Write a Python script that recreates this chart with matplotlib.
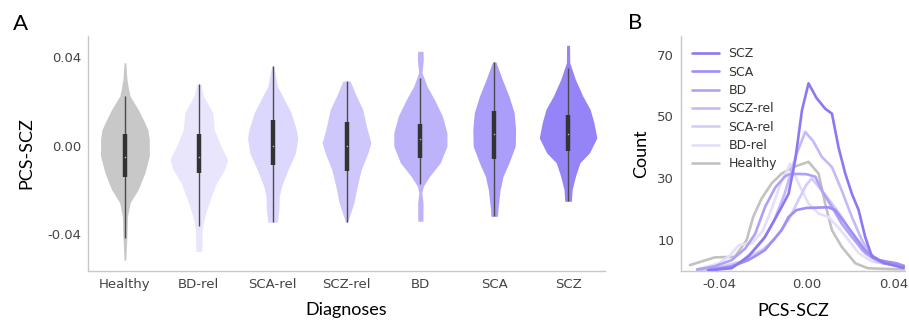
import matplotlib
matplotlib.use('Agg')
import matplotlib.pyplot as plt
import numpy as np

# ---------------- data ----------------
groups = ['Healthy', 'BD-rel', 'SCA-rel', 'SCZ-rel', 'BD', 'SCA', 'SCZ']

fill_colors = ['#c8c8c8', '#e8e5fd', '#dcd7fc', '#cec7fc', '#bcb3fb', '#aa9efa', '#9584f8']
line_colors = ['#c2c2c2', '#e3dffc', '#d3ccfa', '#c3bbf8', '#ada2f6', '#9d8ff5', '#8b79f4']

# violin outlines: PCS-SCZ value and half width (category units)
healthy_y = [0.0374, 0.030, 0.0253, 0.0223, 0.0163, 0.0102, 0.0072, 0.0027, -0.0048, -0.0124, -0.0199, -0.0259, -0.032, -0.041, -0.0518]
healthy_w = [0.012, 0.027, 0.05, 0.07, 0.18, 0.27, 0.31, 0.33, 0.33, 0.27, 0.18, 0.07, 0.034, 0.027, 0.012]
bdrel_y = [0.0276, 0.0223, 0.0148, 0.0072, -0.0003, -0.0063, -0.0108, -0.0169, -0.0229, -0.032, -0.038, -0.0478]
bdrel_w = [0.027, 0.065, 0.19, 0.21, 0.30, 0.39, 0.35, 0.24, 0.17, 0.08, 0.045, 0.04]
scarel_y = [0.0359, 0.0268, 0.0223, 0.0148, 0.0072, 0.0035, -0.0033, -0.0108, -0.0184, -0.0229, -0.0289, -0.0347]
scarel_w = [0.014, 0.063, 0.135, 0.25, 0.32, 0.34, 0.31, 0.21, 0.12, 0.09, 0.085, 0.065]
sczrel_y = [0.0291, 0.0223, 0.0163, 0.0087, 0.0012, -0.0033, -0.0108, -0.0184, -0.0259, -0.032, -0.0347]
sczrel_w = [0.05, 0.135, 0.22, 0.27, 0.33, 0.29, 0.20, 0.145, 0.10, 0.04, 0.015]
bd_y = [0.0426, 0.0389, 0.0329, 0.0268, 0.0208, 0.0132, 0.0057, -0.0003, -0.0078, -0.0139, -0.0184, -0.0214, -0.0259, -0.0342]
bd_w = [0.036, 0.04, 0.023, 0.09, 0.19, 0.30, 0.36, 0.36, 0.27, 0.125, 0.04, 0.02, 0.036, 0.035]
sca_y = [0.0378, 0.0298, 0.0223, 0.0148, 0.0072, -0.0003, -0.0078, -0.0139, -0.0199, -0.0289, -0.032]
sca_w = [0.023, 0.11, 0.20, 0.27, 0.29, 0.285, 0.20, 0.12, 0.08, 0.05, 0.045]
scz_y = [0.0453, 0.0374, 0.0298, 0.0223, 0.0163, 0.0103, 0.0035, -0.0033, -0.0078, -0.0139, -0.0199, -0.0252]
scz_w = [0.02, 0.023, 0.10, 0.20, 0.30, 0.35, 0.39, 0.29, 0.16, 0.10, 0.055, 0.045]

violin_y = [healthy_y, bdrel_y, scarel_y, sczrel_y, bd_y, sca_y, scz_y]
violin_w = [healthy_w, bdrel_w, scarel_w, sczrel_w, bd_w, sca_w, scz_w]

# box summaries
whisk_lo = [-0.0417, -0.0362, -0.0347, -0.0347, -0.0172, -0.032, -0.0252]
q1 = [-0.0142, -0.0124, -0.0086, -0.0116, -0.0056, -0.0063, -0.0026]
median = [-0.0051, -0.0053, 0.0, 0.0, 0.003, 0.005, 0.0054]
q3 = [0.0054, 0.005, 0.0115, 0.0107, 0.0099, 0.0158, 0.0136]
whisk_hi = [0.0223, 0.0276, 0.0359, 0.0291, 0.0306, 0.0378, 0.0351]

# panel B curves (PCS-SCZ, Count)
scz_kx = [-0.045, -0.0343, -0.0267, -0.019, -0.0114, -0.0082, -0.0052, -0.0021, 0.0009, 0.0045, 0.0085, 0.0116, 0.0146, 0.0177, 0.0207, 0.0238, 0.0268, 0.0299, 0.036, 0.0443]
scz_kc = [0.2, 0.9, 4.6, 11, 20.7, 25, 35.8, 52, 60.7, 56, 52.5, 50.9, 40, 31.5, 25, 19.7, 11, 4.6, 2.5, 1]
sca_kx = [-0.045, -0.034, -0.0267, -0.023, -0.019, -0.0114, -0.0082, -0.0046, 0.0, 0.005, 0.01, 0.0131, 0.0177, 0.0223, 0.0268, 0.033, 0.0411, 0.045]
sca_kc = [0.3, 1.5, 3.5, 5.0, 6.8, 13.2, 17.5, 19.7, 20.4, 20.5, 20.6, 19.7, 15.4, 11, 6.7, 3.5, 2.5, 1.5]
bd_kx = [-0.05, -0.042, -0.0343, -0.028, -0.0235, -0.019, -0.0143, -0.010, -0.008, -0.004, 0.0, 0.004, 0.007, 0.0116, 0.016, 0.0207, 0.027, 0.035, 0.045]
bd_kc = [0.5, 1.5, 3.5, 7.3, 12, 20.7, 27, 30.5, 31.3, 31.4, 31.3, 30.5, 26, 20.7, 15.4, 11, 5.7, 2.5, 1.5]
sczrel_kx = [-0.05, -0.04, -0.035, -0.03, -0.025, -0.02, -0.015, -0.01, -0.005, -0.0006, 0.003, 0.007, 0.0116, 0.0161, 0.0207, 0.0253, 0.03, 0.037, 0.045]
sczrel_kc = [0.3, 1.0, 1.5, 3, 6, 10, 16, 25, 37, 45, 42, 36.9, 33.6, 26, 17.5, 10, 4.6, 2.5, 1.5]
scarel_kx = [-0.05, -0.04, -0.03, -0.025, -0.02, -0.015, -0.0082, -0.0037, 0.0, 0.0024, 0.007, 0.0116, 0.0161, 0.0207, 0.0253, 0.032, 0.045]
scarel_kc = [0.5, 1.2, 3, 5, 7, 10, 16.5, 23, 28, 29.9, 26, 21.8, 17.5, 12, 6.7, 3, 1.5]
bdrel_kx = [-0.05, -0.04, -0.035, -0.031, -0.025, -0.02, -0.016, -0.012, -0.0075, -0.0037, 0.0009, 0.0055, 0.01, 0.0146, 0.0192, 0.0238, 0.03, 0.045]
bdrel_kc = [0.5, 2.5, 5, 8.4, 9, 13, 20, 28, 34.7, 28.3, 21.8, 18.6, 17.5, 14, 10, 5.8, 3, 1.5]
healthy_kx = [-0.0533, -0.042, -0.0328, -0.0274, -0.0244, -0.0206, -0.016, -0.0114, -0.0061, 0.0009, 0.0055, 0.0085, 0.0116, 0.0161, 0.0223, 0.028, 0.035, 0.045]
healthy_kc = [1.9, 4.4, 4.6, 10, 17.5, 23.4, 28.3, 31.5, 33.6, 35.3, 31.5, 21.8, 13.2, 7.8, 2.5, 0.9, 0.7, 0.5]

curve_x = [healthy_kx, bdrel_kx, scarel_kx, sczrel_kx, bd_kx, sca_kx, scz_kx]
curve_c = [healthy_kc, bdrel_kc, scarel_kc, sczrel_kc, bd_kc, sca_kc, scz_kc]

label_font = ['Lato', 'DejaVu Sans']
tick_color = '#444444'
spine_color = '#c8c8c8'

fig = plt.figure(figsize=(9.09, 3.25), dpi=100)

# ---------------- panel A: violins ----------------
axA = fig.add_axes([88 / 909, 54 / 325, 517 / 909, 235 / 325])
for i in range(len(groups)):
    y = np.array(violin_y[i])
    w = np.array(violin_w[i])
    axA.fill_betweenx(y, i - w, i + w, color=fill_colors[i], lw=0, zorder=1)
    axA.vlines(i, whisk_lo[i], whisk_hi[i], color='#4a4a4a', lw=1.0, zorder=2)
    axA.vlines(i, q1[i], q3[i], color='#333333', lw=3.2, zorder=3)
    # median: tiny pale tick inside the box
    axA.scatter([i], [median[i]], s=1.2, color='#bbbbbb', zorder=4, lw=0)

axA.set_xlim(-0.5, 6.5)
axA.set_ylim(-0.0567, 0.0495)
axA.set_xticks(range(len(groups)))
axA.set_xticklabels(groups)
axA.set_yticks([-0.04, 0.0, 0.04])
axA.set_yticklabels(['-0.04', '0.00', '0.04'])
axA.set_xlabel('Diagnoses', family=label_font, fontsize=13, labelpad=8)
axA.set_ylabel('PCS-SCZ', family=label_font, fontsize=13, labelpad=9)

# ---------------- panel B: count curves ----------------
axB = fig.add_axes([681 / 909, 54 / 325, 224 / 909, 235 / 325])
for i in range(len(groups) - 1, -1, -1):
    axB.plot(curve_x[i], curve_c[i], color=line_colors[i], lw=1.9,
             solid_capstyle='round', label=groups[i], zorder=2 + i * 0.1)

# legend in the reference order: SCZ first, Healthy last
handles, labels = axB.get_legend_handles_labels()
leg = axB.legend(handles, labels, loc='upper left', frameon=False, fontsize=9,
                 handlelength=2.1, handletextpad=0.8, labelspacing=0.43,
                 borderaxespad=0.5, borderpad=0.4)
for t in leg.get_texts():
    t.set_color('#333333')

axB.set_xlim(-0.0574, 0.045)
axB.set_ylim(0, 76)
axB.set_xticks([-0.04, 0.0, 0.04])
axB.set_xticklabels(['-0.04', '0.00', '0.04'])
axB.set_yticks([10, 30, 50, 70])
axB.set_xlabel('PCS-SCZ', family=label_font, fontsize=13, labelpad=9)
axB.set_ylabel('Count', family=label_font, fontsize=13, labelpad=6)

for ax in (axA, axB):
    for side in ('top', 'right'):
        ax.spines[side].set_visible(False)
    for side in ('left', 'bottom'):
        ax.spines[side].set_color(spine_color)
        ax.spines[side].set_linewidth(1.0)
    ax.tick_params(length=0, labelsize=9.5, labelcolor=tick_color, pad=5)

fig.text(13 / 909, 1 - 24 / 325, 'A', family=label_font, fontsize=16, va='center', ha='left')
fig.text(628 / 909, 1 - 23 / 325, 'B', family=label_font, fontsize=16, va='center', ha='left')

fig.savefig('out.png', dpi=100, facecolor='white')
